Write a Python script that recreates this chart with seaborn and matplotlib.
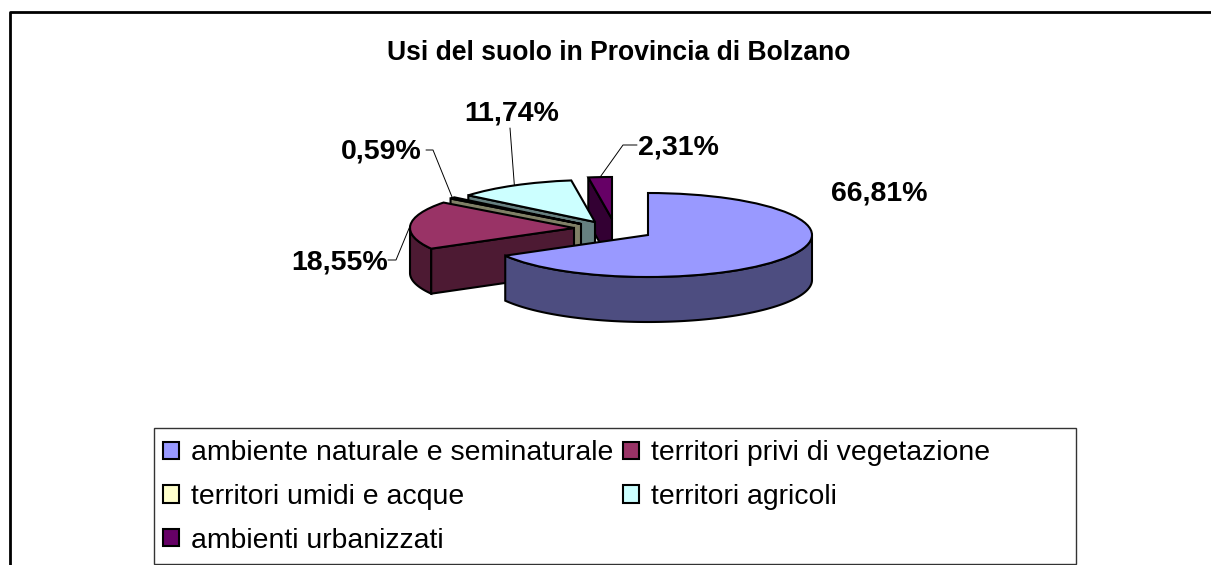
import matplotlib
matplotlib.use("Agg")
import matplotlib.pyplot as plt
from matplotlib.lines import Line2D
from matplotlib.patches import Rectangle
import numpy as np
import seaborn as sns

title = "Usi del suolo in Provincia di Bolzano"
categories = ["ambiente naturale e seminaturale", "territori privi di vegetazione",
              "territori umidi e acque", "territori agricoli", "ambienti urbanizzati"]
values = [66.81, 18.55, 0.59, 11.74, 2.31]
top_colors = ["#9999FF", "#993366", "#FFFFCC", "#CCFFFF", "#660066"]
side_colors = ["#4D4D80", "#4D1A33", "#808066", "#668080", "#330033"]

# pie placement, in pixels of the 1211x565 image
cx, cy = 648, 235
rx, ry = 164, 42
depth = 45
slice_shift = [(0, 0), (-74, -7), (-67, -11), (-53, -13), (-36, -16)]
label_pos = [(879, 193), (340, 262), (381, 151), (512, 113), (678, 147)]
label_elbow = [None, (396, 260), (433, 150), (510, 128), (623, 145)]
label_start = [None, (388, 260), (426, 150), None, (637, 145)]

sns.set_theme(style="white")
plt.rcParams["font.family"] = ["Liberation Sans", "DejaVu Sans"]
plt.rcParams["legend.labelcolor"] = "black"


def to_data(px, py):
    return (px - cx) / rx, (cy - py) / ry


fig = plt.figure(figsize=(12.11, 5.65), dpi=100, facecolor="white")
ax = fig.add_axes([0, 0, 1, 1])
wedges, _ = ax.pie(values, colors=sns.color_palette(top_colors), startangle=90, counterclock=False,
                   radius=1, wedgeprops=dict(edgecolor="black", linewidth=1.5))
ax.set_aspect("auto")
ax.set_xlim(-cx / rx, (1211 - cx) / rx)
ax.set_ylim((cy - 565) / ry, cy / ry)
ax.axis("off")

h = depth / ry
n = len(values)
for i, w in enumerate(wedges):
    ox, oy = slice_shift[i][0] / rx, -slice_shift[i][1] / ry
    z = 2 * (n - i)
    w.set_center((ox, oy))
    w.set_zorder(z + 1)

    # curved outer side, only the part turned to the viewer
    t = np.radians(np.linspace(w.theta1, w.theta2, 200))
    t = t[np.sin(t) <= 0]
    if len(t) > 1:
        xs = ox + np.cos(t)
        ys = oy + np.sin(t)
        ax.fill(np.r_[xs, xs[::-1]], np.r_[ys, ys[::-1] - h], facecolor=side_colors[i],
                edgecolor="black", linewidth=1.5, zorder=z)

    # flat cut side
    if i > 0:
        a = np.radians(w.theta2)
        ex, ey = ox + np.cos(a), oy + np.sin(a)
        ax.fill([ox, ex, ex, ox], [oy, ey, ey - h, oy - h], facecolor=side_colors[i],
                edgecolor="black", linewidth=1.5, zorder=z)

    # data label and leader line
    txt = f"{values[i]:.2f}%".replace(".", ",")
    lx, ly = to_data(*label_pos[i])
    ax.text(lx, ly, txt, fontsize=20.5, fontweight="bold", color="black", ha="center", va="center", zorder=30)
    if label_elbow[i] is not None:
        m = np.radians((w.theta1 + w.theta2) / 2)
        pts = [to_data(*label_elbow[i]), (ox + np.cos(m), oy + np.sin(m))]
        if label_start[i] is not None:
            pts.insert(0, to_data(*label_start[i]))
        ax.plot(*zip(*pts), color="black", linewidth=0.7, zorder=29)

tx, ty = to_data(618.5, 53)
ax.text(tx, ty, title, fontsize=19.1, fontweight="bold", color="black", ha="center", va="center")

# legend box is wider than its entries, so it is drawn on its own
fig.add_artist(Rectangle((153.5 / 1211, 1 - 563.5 / 565), 922.5 / 1211, 135.5 / 565, transform=fig.transFigure,
                         facecolor="white", edgecolor="#333333", linewidth=1))
order = [0, 2, 4, 1, 3]
leg = fig.legend([wedges[i] for i in order], [categories[i] for i in order], ncols=2,
                 loc="upper left", bbox_to_anchor=(154.5 / 1211, 1 - 432 / 565),
                 fontsize=20.4, frameon=False, handlelength=0.56, handleheight=0.56,
                 handletextpad=0.42, labelspacing=0.62, borderaxespad=0, borderpad=0.3, columnspacing=0.35)
leg.set_zorder(40)

# outer chart border, open at the bottom and on the right
fig.add_artist(Line2D(np.array([9.5, 9.5, 1211]) / 1211, 1 - np.array([565, 11.5, 11.5]) / 565,
                      color="black", linewidth=2))

fig.savefig("out.png", dpi=100)
